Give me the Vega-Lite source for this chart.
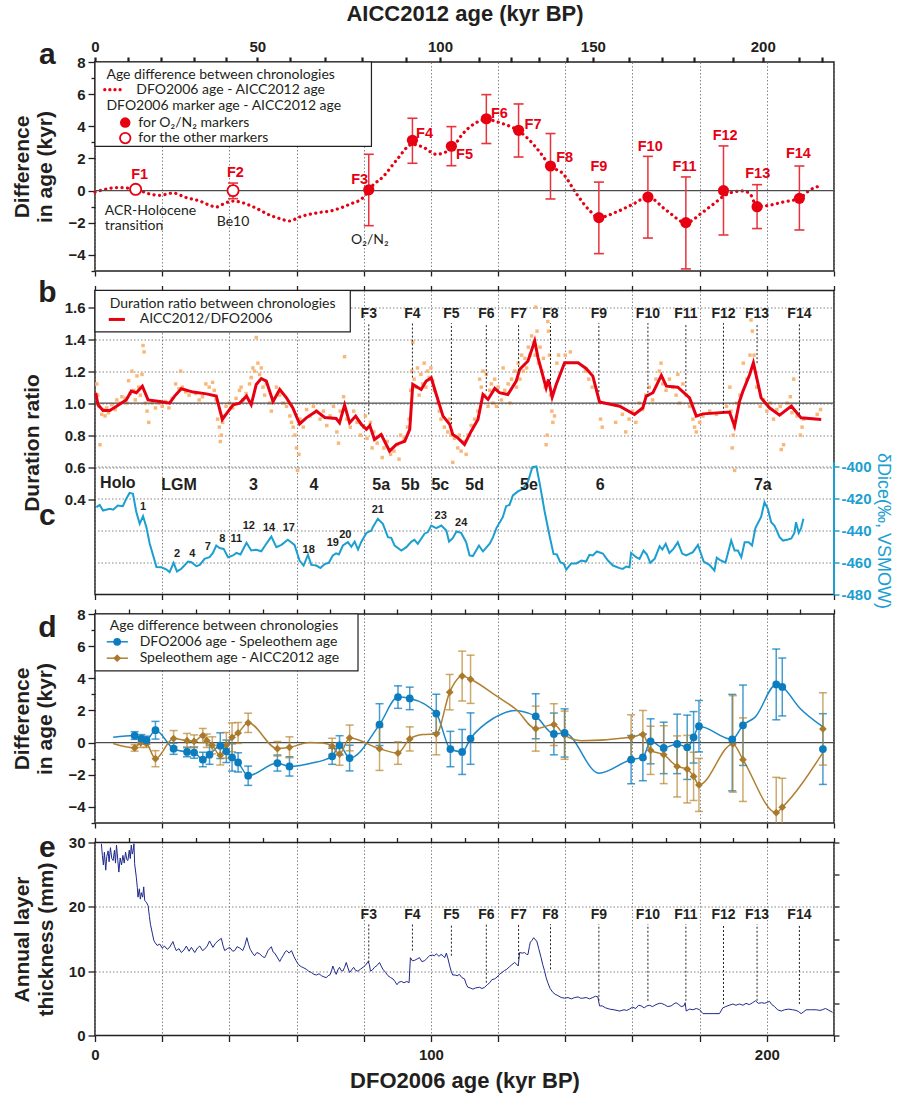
{
"$schema":"https://vega.github.io/schema/vega-lite/v6.json",
"padding":{"left":10,"top":1,"right":0,"bottom":0},
"background":"white",
"config":{
 "view":{"stroke":"#231f20","strokeWidth":1.5},
 "axis":{"labelFont":"Liberation Sans","labelFontWeight":"bold","labelFontSize":15,"labelColor":"#231f20","titleFont":"Liberation Sans","titleFontWeight":"bold","titleFontSize":21,"titleColor":"#231f20","tickColor":"#231f20","tickWidth":1.3,"domain":false,"gridColor":"#777","gridDash":[1.5,2],"gridWidth":0.9,"labelOverlap":false,"labelFlush":false},
 "text":{"font":"Liberation Sans","color":"#231f20"}
},
"datasets":{
 "a_curve":[{"age":0,"diff":-0.09},{"age":3,"diff":0.08},{"age":6.4,"diff":0.19},{"age":9,"diff":0.17},{"age":11.3,"diff":0.12},{"age":13.5,"diff":0.0},{"age":15.3,"diff":-0.15},{"age":19.3,"diff":-0.29},{"age":23.2,"diff":-0.15},{"age":27.2,"diff":-0.44},{"age":31.2,"diff":-0.65},{"age":34,"diff":-0.9},{"age":36.1,"diff":-1.02},{"age":38.5,"diff":-0.8},{"age":41.1,"diff":-0.65},{"age":46.0,"diff":-0.91},{"age":49,"diff":-1.2},{"age":51.0,"diff":-1.43},{"age":55.0,"diff":-1.74},{"age":57.9,"diff":-1.89},{"age":60.9,"diff":-1.64},{"age":65.9,"diff":-1.39},{"age":70.8,"diff":-1.23},{"age":75.8,"diff":-0.85},{"age":79.8,"diff":-0.44},{"age":82.7,"diff":0.33},{"age":85.7,"diff":0.85},{"age":89.7,"diff":1.88},{"age":94.5,"diff":2.88},{"age":97.6,"diff":2.71},{"age":101.6,"diff":2.26},{"age":106.1,"diff":2.61},{"age":109.5,"diff":3.54},{"age":113,"diff":4.17},{"age":116.5,"diff":4.43},{"age":120.4,"diff":4.23},{"age":126.1,"diff":3.71},{"age":129.4,"diff":3.13},{"age":132.4,"diff":2.4},{"age":135.6,"diff":1.53},{"age":139.3,"diff":1.06},{"age":143.3,"diff":-0.19},{"age":147.2,"diff":-1.23},{"age":150.0,"diff":-1.68},{"age":155.2,"diff":-1.33},{"age":160.1,"diff":-0.85},{"age":164.6,"diff":-0.4},{"age":170.1,"diff":-1.23},{"age":175.9,"diff":-1.99},{"age":181.0,"diff":-1.33},{"age":184.9,"diff":-0.71},{"age":187.5,"diff":-0.3},{"age":189.9,"diff":-0.09},{"age":192.9,"diff":-0.02},{"age":195,"diff":-0.2},{"age":197.1,"diff":-1.0},{"age":200.8,"diff":-0.91},{"age":204.8,"diff":-0.71},{"age":209.7,"diff":-0.48},{"age":212.7,"diff":0.02},{"age":216.5,"diff":0.33}],
 "a_markers":[{"F":"F1","age":12.1,"diff":0.08,"lo":null,"hi":null,"marker":"other"},{"F":"F2","age":41.1,"diff":0.0,"lo":-0.5,"hi":0.47,"marker":"other"},{"F":"F3","age":81.5,"diff":0.05,"lo":-2.18,"hi":2.26,"marker":"O2N2"},{"F":"F4","age":94.5,"diff":3.13,"lo":1.7,"hi":4.5,"marker":"O2N2"},{"F":"F5","age":106.1,"diff":2.76,"lo":1.55,"hi":3.98,"marker":"O2N2"},{"F":"F6","age":116.5,"diff":4.47,"lo":2.93,"hi":5.97,"marker":"O2N2"},{"F":"F7","age":126.1,"diff":3.75,"lo":2.09,"hi":5.39,"marker":"O2N2"},{"F":"F8","age":135.6,"diff":1.53,"lo":-0.52,"hi":3.55,"marker":"O2N2"},{"F":"F9","age":150.0,"diff":-1.68,"lo":-3.92,"hi":0.53,"marker":"O2N2"},{"F":"F10","age":164.6,"diff":-0.4,"lo":-2.95,"hi":2.13,"marker":"O2N2"},{"F":"F11","age":175.9,"diff":-1.99,"lo":-4.87,"hi":0.85,"marker":"O2N2"},{"F":"F12","age":187.1,"diff":0.0,"lo":-2.76,"hi":2.78,"marker":"O2N2"},{"F":"F13","age":197.1,"diff":-1.0,"lo":-2.36,"hi":0.37,"marker":"O2N2"},{"F":"F14","age":209.7,"diff":-0.48,"lo":-2.45,"hi":1.53,"marker":"O2N2"}],
 "a_labels":[{"F":"F1","age":13.3,"diff":1.0},{"F":"F2","age":41.8,"diff":1.12},{"F":"F3","age":78.8,"diff":0.64},{"F":"F4","age":98.1,"diff":3.55},{"F":"F5","age":110,"diff":2.2},{"F":"F6","age":120.4,"diff":4.79},{"F":"F7","age":130.4,"diff":4.06},{"F":"F8","age":139.8,"diff":2.03},{"F":"F9","age":150.0,"diff":1.47},{"F":"F10","age":165.3,"diff":2.72},{"F":"F11","age":175.5,"diff":1.47},{"F":"F12","age":187.6,"diff":3.4},{"F":"F13","age":197.3,"diff":1.06},{"F":"F14","age":209.4,"diff":2.25}],
 "fmarks":[{"F":"F3","age":81.5,"bEnd":0.93,"eEnd":11.35},{"F":"F4","age":94.5,"bEnd":1.16,"eEnd":13.2},{"F":"F5","age":106.1,"bEnd":0.87,"eEnd":12.4},{"F":"F6","age":116.5,"bEnd":1.075,"eEnd":8.2},{"F":"F7","age":126.1,"bEnd":1.2,"eEnd":11.9},{"F":"F8","age":135.6,"bEnd":1.12,"eEnd":10.3},{"F":"F9","age":150.0,"bEnd":1.07,"eEnd":5.4},{"F":"F10","age":164.6,"bEnd":1.04,"eEnd":5.4},{"F":"F11","age":175.9,"bEnd":1.075,"eEnd":5.4},{"F":"F12","age":187.1,"bEnd":0.94,"eEnd":4.9},{"F":"F13","age":197.1,"bEnd":1.25,"eEnd":5.4},{"F":"F14","age":209.7,"bEnd":0.93,"eEnd":4.9}],
 "b_ratio":[{"age":0.2,"ratio":1.064},{"age":0.9,"ratio":0.99},{"age":2.4,"ratio":0.954},{"age":4.4,"ratio":0.954},{"age":6.4,"ratio":0.98},{"age":9.3,"ratio":1.02},{"age":10.8,"ratio":1.075},{"age":12.3,"ratio":1.065},{"age":14.1,"ratio":1.106},{"age":15.8,"ratio":1.02},{"age":19.3,"ratio":1.01},{"age":22.2,"ratio":1.0},{"age":23.7,"ratio":1.044},{"age":25.7,"ratio":1.09},{"age":29.2,"ratio":1.069},{"age":33.2,"ratio":1.058},{"age":36.1,"ratio":1.044},{"age":37.9,"ratio":0.898},{"age":39.1,"ratio":0.933},{"age":41.1,"ratio":0.99},{"age":43.1,"ratio":1.0},{"age":45.1,"ratio":1.044},{"age":46.5,"ratio":0.99},{"age":48.0,"ratio":1.117},{"age":49.5,"ratio":1.154},{"age":51.0,"ratio":1.138},{"age":53.0,"ratio":1.01},{"age":55.0,"ratio":1.085},{"age":57.0,"ratio":1.033},{"age":58.9,"ratio":0.97},{"age":60.9,"ratio":0.87},{"age":62.9,"ratio":0.908},{"age":65.9,"ratio":0.95},{"age":68.4,"ratio":0.91},{"age":71.8,"ratio":0.904},{"age":72.8,"ratio":0.877},{"age":74.3,"ratio":0.988},{"age":75.8,"ratio":0.877},{"age":77.6,"ratio":0.919},{"age":79.3,"ratio":0.867},{"age":80.8,"ratio":0.836},{"age":81.8,"ratio":0.86},{"age":83.2,"ratio":0.773},{"age":85.2,"ratio":0.804},{"age":87.7,"ratio":0.70},{"age":89.7,"ratio":0.742},{"age":92.2,"ratio":0.762},{"age":93.7,"ratio":0.836},{"age":94.6,"ratio":1.117},{"age":97.1,"ratio":1.085},{"age":98.6,"ratio":1.138},{"age":100.1,"ratio":1.158},{"age":101.6,"ratio":1.054},{"age":103.6,"ratio":0.919},{"age":105.6,"ratio":0.867},{"age":106.5,"ratio":0.804},{"age":108.0,"ratio":0.783},{"age":110.0,"ratio":0.742},{"age":112.0,"ratio":0.825},{"age":114.0,"ratio":0.898},{"age":115.5,"ratio":1.054},{"age":117.0,"ratio":1.023},{"age":119.0,"ratio":1.092},{"age":120.4,"ratio":1.065},{"age":122.9,"ratio":1.054},{"age":125.4,"ratio":1.138},{"age":126.4,"ratio":1.21},{"age":128.9,"ratio":1.263},{"age":130.9,"ratio":1.388},{"age":131.9,"ratio":1.283},{"age":134.3,"ratio":1.096},{"age":135.0,"ratio":1.148},{"age":136.1,"ratio":1.038},{"age":137.3,"ratio":1.117},{"age":139.8,"ratio":1.252},{"age":143.8,"ratio":1.252},{"age":146.2,"ratio":1.217},{"age":148.2,"ratio":1.169},{"age":150.2,"ratio":1.008},{"age":156.2,"ratio":0.981},{"age":160.6,"ratio":0.929},{"age":163.1,"ratio":0.971},{"age":164.1,"ratio":1.044},{"age":166.1,"ratio":1.065},{"age":168.6,"ratio":1.173},{"age":170.1,"ratio":1.106},{"age":173.5,"ratio":1.1},{"age":177.0,"ratio":1.033},{"age":179.0,"ratio":0.919},{"age":181.0,"ratio":0.933},{"age":188.9,"ratio":0.944},{"age":190.4,"ratio":0.856},{"age":191.9,"ratio":1.013},{"age":192.9,"ratio":1.075},{"age":194.9,"ratio":1.179},{"age":196.0,"ratio":1.252},{"age":198.3,"ratio":1.033},{"age":200.8,"ratio":0.971},{"age":203.8,"ratio":0.925},{"age":207.3,"ratio":0.981},{"age":210.2,"ratio":0.908},{"age":216.2,"ratio":0.898}],
 "b_points":[{"age":0.5,"ratio":1.12},{"age":0.8,"ratio":1.05},{"age":1.2,"ratio":0.98},{"age":1.5,"ratio":0.74},{"age":2,"ratio":0.93},{"age":2.5,"ratio":0.96},{"age":3,"ratio":0.92},{"age":3.5,"ratio":0.97},{"age":4,"ratio":0.94},{"age":5,"ratio":0.99},{"age":6,"ratio":0.96},{"age":6.5,"ratio":1.02},{"age":7.5,"ratio":1.0},{"age":8,"ratio":1.04},{"age":9,"ratio":1.03},{"age":9.5,"ratio":1.0},{"age":10,"ratio":1.14},{"age":10.5,"ratio":1.06},{"age":11,"ratio":1.2},{"age":11.5,"ratio":1.08},{"age":12,"ratio":1.02},{"age":12.5,"ratio":1.17},{"age":13,"ratio":1.1},{"age":13.5,"ratio":1.05},{"age":14,"ratio":1.18},{"age":14.3,"ratio":1.36},{"age":14.6,"ratio":1.32},{"age":15,"ratio":1.0},{"age":15.5,"ratio":0.95},{"age":16,"ratio":0.88},{"age":17,"ratio":1.0},{"age":18,"ratio":0.97},{"age":19,"ratio":1.0},{"age":20,"ratio":0.98},{"age":21,"ratio":1.01},{"age":22,"ratio":0.97},{"age":23,"ratio":1.03},{"age":24,"ratio":1.12},{"age":25,"ratio":1.09},{"age":25.5,"ratio":1.2},{"age":26,"ratio":1.1},{"age":27,"ratio":1.07},{"age":28,"ratio":1.05},{"age":30,"ratio":1.06},{"age":31,"ratio":1.02},{"age":32,"ratio":1.04},{"age":33,"ratio":1.12},{"age":34,"ratio":1.1},{"age":35,"ratio":1.13},{"age":35.5,"ratio":1.08},{"age":36,"ratio":1.02},{"age":36.5,"ratio":0.9},{"age":37,"ratio":0.85},{"age":37.3,"ratio":0.76},{"age":37.6,"ratio":0.8},{"age":38,"ratio":0.88},{"age":38.4,"ratio":0.92},{"age":39,"ratio":0.98},{"age":40,"ratio":1.0},{"age":41,"ratio":0.97},{"age":42,"ratio":1.03},{"age":43,"ratio":1.08},{"age":43.5,"ratio":1.1},{"age":44,"ratio":1.02},{"age":45,"ratio":1.06},{"age":46,"ratio":1.12},{"age":46.5,"ratio":1.16},{"age":47,"ratio":1.22},{"age":47.5,"ratio":1.2},{"age":48,"ratio":1.41},{"age":48.5,"ratio":1.25},{"age":49,"ratio":1.18},{"age":49.5,"ratio":1.22},{"age":50,"ratio":1.1},{"age":50.5,"ratio":1.05},{"age":51,"ratio":1.12},{"age":52,"ratio":1.0},{"age":52.5,"ratio":0.95},{"age":53,"ratio":1.02},{"age":54,"ratio":1.1},{"age":55,"ratio":1.05},{"age":56,"ratio":1.0},{"age":57,"ratio":0.98},{"age":58,"ratio":0.92},{"age":58.5,"ratio":0.88},{"age":59,"ratio":0.85},{"age":59.5,"ratio":0.8},{"age":60,"ratio":0.72},{"age":60.3,"ratio":0.58},{"age":60.7,"ratio":0.68},{"age":61,"ratio":0.9},{"age":62,"ratio":0.85},{"age":63,"ratio":0.96},{"age":64,"ratio":0.92},{"age":65,"ratio":0.98},{"age":66,"ratio":0.95},{"age":67,"ratio":0.9},{"age":68,"ratio":0.95},{"age":69,"ratio":0.86},{"age":70,"ratio":0.92},{"age":71,"ratio":0.98},{"age":72,"ratio":0.82},{"age":72.5,"ratio":0.75},{"age":73,"ratio":0.95},{"age":74,"ratio":1.04},{"age":74.3,"ratio":1.29},{"age":75,"ratio":0.9},{"age":76,"ratio":0.85},{"age":77,"ratio":0.95},{"age":78,"ratio":0.88},{"age":79,"ratio":0.8},{"age":80,"ratio":0.85},{"age":80.5,"ratio":0.92},{"age":81,"ratio":0.78},{"age":82,"ratio":0.88},{"age":82.5,"ratio":0.72},{"age":83,"ratio":0.82},{"age":84,"ratio":0.75},{"age":85,"ratio":0.8},{"age":85.5,"ratio":0.66},{"age":86,"ratio":0.72},{"age":87,"ratio":0.76},{"age":88,"ratio":0.68},{"age":89,"ratio":0.7},{"age":90,"ratio":0.74},{"age":90.5,"ratio":0.65},{"age":91,"ratio":0.8},{"age":92,"ratio":0.78},{"age":93,"ratio":0.85},{"age":93.5,"ratio":0.9},{"age":94,"ratio":1.08},{"age":94.3,"ratio":1.2},{"age":94.6,"ratio":1.38},{"age":95,"ratio":1.15},{"age":95.5,"ratio":1.1},{"age":96,"ratio":1.22},{"age":96.5,"ratio":1.05},{"age":97,"ratio":1.18},{"age":97.5,"ratio":1.12},{"age":98,"ratio":1.25},{"age":98.5,"ratio":1.1},{"age":99,"ratio":1.2},{"age":99.5,"ratio":1.16},{"age":100,"ratio":1.22},{"age":100.5,"ratio":1.14},{"age":101,"ratio":1.08},{"age":102,"ratio":1.0},{"age":102.5,"ratio":0.95},{"age":103,"ratio":0.9},{"age":104,"ratio":0.85},{"age":105,"ratio":0.82},{"age":105.5,"ratio":0.9},{"age":106,"ratio":0.8},{"age":106.5,"ratio":0.63},{"age":107,"ratio":0.78},{"age":108,"ratio":0.72},{"age":108.5,"ratio":0.8},{"age":109,"ratio":0.7},{"age":110,"ratio":0.76},{"age":110.5,"ratio":0.68},{"age":111,"ratio":0.8},{"age":112,"ratio":0.86},{"age":113,"ratio":0.9},{"age":114,"ratio":0.95},{"age":114.5,"ratio":1.15},{"age":115,"ratio":1.1},{"age":115.5,"ratio":1.2},{"age":116,"ratio":1.05},{"age":116.5,"ratio":1.18},{"age":117,"ratio":0.98},{"age":117.5,"ratio":1.08},{"age":118,"ratio":1.12},{"age":118.5,"ratio":1.0},{"age":119,"ratio":1.15},{"age":119.5,"ratio":0.98},{"age":120,"ratio":1.1},{"age":121,"ratio":1.02},{"age":121.5,"ratio":1.22},{"age":122,"ratio":1.08},{"age":123,"ratio":1.12},{"age":123.5,"ratio":1.0},{"age":124,"ratio":1.15},{"age":125,"ratio":1.2},{"age":125.5,"ratio":1.1},{"age":126,"ratio":1.25},{"age":126.5,"ratio":1.15},{"age":127,"ratio":1.3},{"age":127.5,"ratio":1.2},{"age":128,"ratio":1.28},{"age":128.5,"ratio":1.22},{"age":129,"ratio":1.35},{"age":129.5,"ratio":1.3},{"age":130,"ratio":1.42},{"age":130.5,"ratio":1.38},{"age":131,"ratio":1.3},{"age":131.2,"ratio":1.6},{"age":131.6,"ratio":1.45},{"age":132,"ratio":1.25},{"age":132.5,"ratio":1.35},{"age":133,"ratio":1.2},{"age":133.5,"ratio":1.28},{"age":134,"ratio":1.1},{"age":134.3,"ratio":0.74},{"age":134.6,"ratio":0.8},{"age":134.8,"ratio":1.51},{"age":135,"ratio":1.45},{"age":135.3,"ratio":1.3},{"age":135.6,"ratio":1.05},{"age":136,"ratio":0.95},{"age":136.3,"ratio":0.88},{"age":136.8,"ratio":0.92},{"age":137.5,"ratio":1.25},{"age":138,"ratio":1.3},{"age":140,"ratio":1.3},{"age":141.5,"ratio":1.32},{"age":146,"ratio":1.2},{"age":147,"ratio":1.15},{"age":148,"ratio":1.1},{"age":150.5,"ratio":0.9},{"age":151,"ratio":0.85},{"age":155,"ratio":0.88},{"age":157,"ratio":0.93},{"age":158,"ratio":0.82},{"age":159,"ratio":0.9},{"age":160,"ratio":0.95},{"age":161,"ratio":0.88},{"age":162,"ratio":1.0},{"age":163,"ratio":0.96},{"age":164,"ratio":1.05},{"age":165,"ratio":1.1},{"age":166,"ratio":1.02},{"age":167,"ratio":1.15},{"age":168,"ratio":1.2},{"age":168.5,"ratio":1.25},{"age":169,"ratio":1.12},{"age":170,"ratio":1.08},{"age":171,"ratio":1.15},{"age":172,"ratio":1.1},{"age":173,"ratio":1.05},{"age":173.5,"ratio":1.18},{"age":174,"ratio":1.0},{"age":175,"ratio":1.12},{"age":176,"ratio":1.05},{"age":177,"ratio":0.98},{"age":178,"ratio":0.9},{"age":178.5,"ratio":0.85},{"age":179,"ratio":0.82},{"age":180,"ratio":0.88},{"age":181,"ratio":0.92},{"age":183,"ratio":0.95},{"age":185,"ratio":0.93},{"age":188,"ratio":0.98},{"age":189,"ratio":1.1},{"age":189.3,"ratio":0.95},{"age":189.7,"ratio":0.72},{"age":190,"ratio":0.8},{"age":190.3,"ratio":0.85},{"age":190.4,"ratio":0.58},{"age":191,"ratio":1.0},{"age":192,"ratio":1.05},{"age":193,"ratio":1.25},{"age":194,"ratio":1.15},{"age":195,"ratio":1.3},{"age":195.3,"ratio":1.52},{"age":195.7,"ratio":1.45},{"age":196.2,"ratio":1.3},{"age":197,"ratio":1.1},{"age":198,"ratio":0.98},{"age":199,"ratio":1.02},{"age":200,"ratio":0.95},{"age":201,"ratio":1.0},{"age":202,"ratio":0.9},{"age":203,"ratio":0.96},{"age":204,"ratio":0.98},{"age":204.3,"ratio":0.71},{"age":205,"ratio":0.74},{"age":206,"ratio":1.0},{"age":207,"ratio":1.04},{"age":207.5,"ratio":0.94},{"age":208,"ratio":1.15},{"age":209,"ratio":0.92},{"age":210,"ratio":0.8},{"age":210.5,"ratio":0.85},{"age":211,"ratio":0.9},{"age":215,"ratio":0.93},{"age":216,"ratio":0.96}],
 "c_dD":[{"age":0.4,"dD":-425.4},{"age":1.4,"dD":-424},{"age":2.4,"dD":-427.5},{"age":4.4,"dD":-426.5},{"age":5.4,"dD":-427},{"age":6.8,"dD":-424.4},{"age":8.3,"dD":-424.8},{"age":9.3,"dD":-420.2},{"age":10.3,"dD":-416.5},{"age":11.3,"dD":-417},{"age":12.3,"dD":-428.5},{"age":13.3,"dD":-435.8},{"age":14.3,"dD":-431},{"age":15.3,"dD":-437.9},{"age":16.3,"dD":-448.3},{"age":18.3,"dD":-462.9},{"age":19.8,"dD":-463},{"age":21.3,"dD":-464.4},{"age":22.2,"dD":-466},{"age":23.4,"dD":-460.2},{"age":24.4,"dD":-465.6},{"age":25.7,"dD":-463.9},{"age":27.7,"dD":-459.4},{"age":28.7,"dD":-459.8},{"age":30.2,"dD":-462.3},{"age":31.2,"dD":-461.5},{"age":32.6,"dD":-457.7},{"age":34.1,"dD":-456.7},{"age":35.1,"dD":-454},{"age":36.1,"dD":-449.4},{"age":37.1,"dD":-451},{"age":38.3,"dD":-451.5},{"age":39.6,"dD":-456.7},{"age":41.1,"dD":-455.6},{"age":42.1,"dD":-454},{"age":43.3,"dD":-455},{"age":45.1,"dD":-447.7},{"age":46.5,"dD":-452.5},{"age":48.0,"dD":-452},{"age":49.5,"dD":-453},{"age":51.0,"dD":-448.3},{"age":52.5,"dD":-443.8},{"age":54.0,"dD":-450.4},{"age":55.5,"dD":-449},{"age":57.4,"dD":-445.8},{"age":59.4,"dD":-449},{"age":60.9,"dD":-458.8},{"age":62.1,"dD":-461.9},{"age":63.4,"dD":-455.2},{"age":64.4,"dD":-461.5},{"age":65.9,"dD":-461.9},{"age":67.1,"dD":-463.5},{"age":68.4,"dD":-461},{"age":69.6,"dD":-460.2},{"age":70.8,"dD":-455.6},{"age":71.8,"dD":-454.3},{"age":72.6,"dD":-455},{"age":73.8,"dD":-449.4},{"age":75.3,"dD":-447.3},{"age":76.3,"dD":-450.2},{"age":77.3,"dD":-447},{"age":78.3,"dD":-451.9},{"age":79.3,"dD":-447},{"age":80.8,"dD":-441.5},{"age":82.3,"dD":-440},{"age":82.7,"dD":-437.9},{"age":84.2,"dD":-432.7},{"age":85.7,"dD":-435.8},{"age":87.2,"dD":-444.2},{"age":88.2,"dD":-444.6},{"age":89.2,"dD":-449.4},{"age":91.2,"dD":-452.5},{"age":92.7,"dD":-450.4},{"age":94.2,"dD":-446.9},{"age":95.1,"dD":-445.8},{"age":96.1,"dD":-448.3},{"age":98.1,"dD":-442},{"age":99.1,"dD":-441},{"age":100.1,"dD":-436.9},{"age":101.6,"dD":-438.5},{"age":103.1,"dD":-436.9},{"age":104.6,"dD":-440},{"age":105.4,"dD":-446.9},{"age":106.5,"dD":-444.8},{"age":107.6,"dD":-440.6},{"age":109.0,"dD":-441.5},{"age":110.5,"dD":-447.3},{"age":111.5,"dD":-455.6},{"age":112.5,"dD":-456},{"age":114.3,"dD":-449.4},{"age":115.5,"dD":-453.1},{"age":117.5,"dD":-448.3},{"age":118.5,"dD":-444.2},{"age":119.5,"dD":-438.5},{"age":121.4,"dD":-431.7},{"age":122.4,"dD":-424.8},{"age":123.4,"dD":-424},{"age":124.4,"dD":-418.1},{"age":125.9,"dD":-415.6},{"age":127.4,"dD":-414},{"age":128.9,"dD":-409.4},{"age":130.2,"dD":-400.4},{"age":131.4,"dD":-400},{"age":132.4,"dD":-410.8},{"age":133.8,"dD":-427.5},{"age":135.3,"dD":-443.1},{"age":136.5,"dD":-454.6},{"age":137.5,"dD":-455},{"age":138.5,"dD":-459.8},{"age":139.5,"dD":-460.6},{"age":140.3,"dD":-464.4},{"age":141.8,"dD":-460.6},{"age":143.3,"dD":-460.6},{"age":144.8,"dD":-458.8},{"age":146.2,"dD":-459.4},{"age":147.2,"dD":-455.2},{"age":148.2,"dD":-455.6},{"age":149.4,"dD":-453.1},{"age":151.2,"dD":-454.4},{"age":152.7,"dD":-458.8},{"age":154.2,"dD":-461.9},{"age":156.2,"dD":-463.5},{"age":157.1,"dD":-464},{"age":158.2,"dD":-462.5},{"age":159.1,"dD":-463},{"age":159.6,"dD":-454},{"age":161.1,"dD":-456.7},{"age":162.1,"dD":-457.7},{"age":163.3,"dD":-452.5},{"age":164.3,"dD":-455},{"age":165.3,"dD":-460.2},{"age":166.6,"dD":-457.7},{"age":168.1,"dD":-449.8},{"age":168.9,"dD":-451.9},{"age":169.9,"dD":-448.3},{"age":171.0,"dD":-454},{"age":172.2,"dD":-451.5},{"age":173.5,"dD":-447.3},{"age":174.8,"dD":-454.4},{"age":176.0,"dD":-455.6},{"age":178.0,"dD":-453.5},{"age":179.5,"dD":-449},{"age":181.2,"dD":-459.4},{"age":182.9,"dD":-461.5},{"age":184.4,"dD":-465},{"age":185.1,"dD":-457},{"age":186.1,"dD":-458.5},{"age":187.7,"dD":-460},{"age":189.4,"dD":-446.3},{"age":190.4,"dD":-452.5},{"age":191.4,"dD":-452.5},{"age":192.4,"dD":-456.7},{"age":193.4,"dD":-447.3},{"age":194.6,"dD":-447.3},{"age":195.6,"dD":-449.4},{"age":196.6,"dD":-438.5},{"age":198.3,"dD":-431.5},{"age":199.3,"dD":-422.3},{"age":200.3,"dD":-426.5},{"age":201.3,"dD":-434.8},{"age":202.3,"dD":-437},{"age":203.8,"dD":-444.2},{"age":204.8,"dD":-446.3},{"age":206.3,"dD":-445.6},{"age":207.3,"dD":-445},{"age":208.2,"dD":-441.5},{"age":208.7,"dD":-434.8},{"age":209.5,"dD":-441.5},{"age":210.2,"dD":-438.5},{"age":210.9,"dD":-432.7}],
 "c_labels":[{"label":"Holo","age":6.8,"dD":-410,"kind":"stage"},{"label":"LGM","age":25.0,"dD":-411.5,"kind":"stage"},{"label":"3","age":47.2,"dD":-411.5,"kind":"stage"},{"label":"4","age":65.2,"dD":-411.5,"kind":"stage"},{"label":"5a","age":85.2,"dD":-411.5,"kind":"stage"},{"label":"5b","age":93.9,"dD":-411.5,"kind":"stage"},{"label":"5c","age":102.8,"dD":-411.5,"kind":"stage"},{"label":"5d","age":113,"dD":-411.5,"kind":"stage"},{"label":"5e","age":129.2,"dD":-411.5,"kind":"stage"},{"label":"6","age":150.4,"dD":-411.5,"kind":"stage"},{"label":"7a","age":198.8,"dD":-411.5,"kind":"stage"},{"label":"1","age":14.3,"dD":-425.4,"kind":"is"},{"label":"2","age":24.4,"dD":-454.6,"kind":"is"},{"label":"4","age":29.0,"dD":-454.6,"kind":"is"},{"label":"7","age":33.6,"dD":-450.4,"kind":"is"},{"label":"8","age":37.9,"dD":-445.2,"kind":"is"},{"label":"11","age":42.1,"dD":-445.2,"kind":"is"},{"label":"12","age":45.8,"dD":-437.3,"kind":"is"},{"label":"14","age":51.8,"dD":-438.5,"kind":"is"},{"label":"17","age":57.7,"dD":-438.5,"kind":"is"},{"label":"18","age":63.6,"dD":-452,"kind":"is"},{"label":"19","age":70.8,"dD":-447.7,"kind":"is"},{"label":"20","age":74.5,"dD":-442.5,"kind":"is"},{"label":"21","age":84.2,"dD":-426.9,"kind":"is"},{"label":"23","age":102.9,"dD":-431,"kind":"is"},{"label":"24","age":109.0,"dD":-435.2,"kind":"is"}],
 "d_blue_line":[{"age":5.4,"diff":0.33},{"age":11.8,"diff":0.44},{"age":13.8,"diff":0.25},{"age":15.3,"diff":0.15},{"age":18.0,"diff":0.77},{"age":23.4,"diff":-0.38},{"age":27.4,"diff":-0.58},{"age":29.5,"diff":-0.62},{"age":32.1,"diff":-1.06},{"age":34.1,"diff":-0.75},{"age":37.3,"diff":-0.19},{"age":39.1,"diff":-0.54},{"age":40.8,"diff":-0.92},{"age":42.6,"diff":-1.23},{"age":45.6,"diff":-2.06},{"age":54.3,"diff":-1.27},{"age":57.9,"diff":-1.48},{"age":64,"diff":-1.3},{"age":70.6,"diff":-0.85},{"age":72.8,"diff":-0.17},{"age":75.8,"diff":-0.96},{"age":84.7,"diff":1.12},{"age":90.2,"diff":2.83},{"age":93.7,"diff":2.75},{"age":101.6,"diff":1.81},{"age":105.8,"diff":-0.4},{"age":109.3,"diff":-0.58},{"age":111.8,"diff":0.25},{"age":118.5,"diff":1.5},{"age":125.4,"diff":2.0},{"age":128.9,"diff":1.84},{"age":131.2,"diff":1.64},{"age":136.6,"diff":0.54},{"age":139.8,"diff":0.6},{"age":150.0,"diff":-1.9},{"age":159.6,"diff":-1.06},{"age":163.1,"diff":-0.92},{"age":165.4,"diff":0.08},{"age":169.3,"diff":-0.33},{"age":173.3,"diff":-0.08},{"age":176.3,"diff":-0.29},{"age":178.2,"diff":0.33},{"age":179.8,"diff":1.02},{"age":189.7,"diff":0.2},{"age":192.9,"diff":1.08},{"age":196.6,"diff":1.6},{"age":202.8,"diff":3.62},{"age":204.6,"diff":3.46},{"age":209.7,"diff":2.17},{"age":216.6,"diff":1.0}],
 "d_blue_pts":[{"age":11.8,"diff":0.44,"lo":0.2,"hi":0.68},{"age":13.8,"diff":0.25,"lo":0.0,"hi":0.5},{"age":15.3,"diff":0.15,"lo":-0.1,"hi":0.4},{"age":18.0,"diff":0.77,"lo":0.22,"hi":1.32},{"age":23.4,"diff":-0.38,"lo":-0.73,"hi":-0.03},{"age":27.4,"diff":-0.58,"lo":-0.88,"hi":-0.28},{"age":29.5,"diff":-0.62,"lo":-0.97,"hi":-0.27},{"age":32.1,"diff":-1.06,"lo":-1.5,"hi":-0.6},{"age":34.1,"diff":-0.75,"lo":-1.35,"hi":-0.15},{"age":37.3,"diff":-0.19,"lo":-0.99,"hi":0.61},{"age":39.1,"diff":-0.54,"lo":-1.24,"hi":0.16},{"age":40.8,"diff":-0.92,"lo":-1.77,"hi":-0.07},{"age":42.6,"diff":-1.23,"lo":-1.83,"hi":-0.63},{"age":45.6,"diff":-2.06,"lo":-2.66,"hi":-1.46},{"age":54.3,"diff":-1.27,"lo":-1.77,"hi":-0.77},{"age":57.9,"diff":-1.48,"lo":-2.08,"hi":-0.88},{"age":70.6,"diff":-0.85,"lo":-1.35,"hi":-0.35},{"age":72.8,"diff":-0.17,"lo":-0.77,"hi":0.43},{"age":75.8,"diff":-0.96,"lo":-1.76,"hi":-0.16},{"age":84.7,"diff":1.12,"lo":-0.18,"hi":2.42},{"age":90.2,"diff":2.83,"lo":2.13,"hi":3.53},{"age":93.7,"diff":2.75,"lo":2.05,"hi":3.45},{"age":101.6,"diff":1.81,"lo":0.61,"hi":3.01},{"age":105.8,"diff":-0.4,"lo":-1.5,"hi":0.7},{"age":109.3,"diff":-0.58,"lo":-1.98,"hi":0.82},{"age":111.8,"diff":0.25,"lo":-1.35,"hi":1.85},{"age":131.2,"diff":1.64,"lo":0.24,"hi":3.04},{"age":136.6,"diff":0.54,"lo":-0.76,"hi":1.84},{"age":139.8,"diff":0.6,"lo":-0.9,"hi":2.1},{"age":159.6,"diff":-1.06,"lo":-2.56,"hi":0.44},{"age":163.1,"diff":-0.92,"lo":-2.37,"hi":0.53},{"age":165.4,"diff":0.08,"lo":-1.32,"hi":1.48},{"age":169.3,"diff":-0.33,"lo":-1.93,"hi":1.27},{"age":173.3,"diff":-0.08,"lo":-1.93,"hi":1.77},{"age":176.3,"diff":-0.29,"lo":-2.29,"hi":1.71},{"age":178.2,"diff":0.33,"lo":-1.27,"hi":1.93},{"age":179.8,"diff":1.02,"lo":-0.58,"hi":2.62},{"age":189.7,"diff":0.2,"lo":-3.0,"hi":3.0},{"age":192.9,"diff":1.08,"lo":-1.42,"hi":3.58},{"age":202.8,"diff":3.62,"lo":1.42,"hi":5.82},{"age":204.6,"diff":3.46,"lo":1.66,"hi":5.26},{"age":216.7,"diff":-0.4,"lo":-2.6,"hi":1.8}],
 "d_brown_line":[{"age":5.4,"diff":-0.06},{"age":11.8,"diff":-0.33},{"age":13.6,"diff":0.0},{"age":15.3,"diff":-0.06},{"age":18.0,"diff":-1.0},{"age":23.4,"diff":0.25},{"age":27.4,"diff":0.12},{"age":29.5,"diff":0.08},{"age":32.1,"diff":0.44},{"age":33.3,"diff":0.12},{"age":34.9,"diff":-0.17},{"age":37.3,"diff":-0.79},{"age":39.1,"diff":-0.17},{"age":40.8,"diff":0.33},{"age":42.6,"diff":0.6},{"age":45.6,"diff":1.23},{"age":54.3,"diff":-0.38},{"age":57.9,"diff":-0.29},{"age":63.9,"diff":0.0},{"age":67.8,"diff":-0.02},{"age":70.6,"diff":-0.23},{"age":72.8,"diff":-0.71},{"age":75.8,"diff":0.29},{"age":84.7,"diff":-0.38},{"age":90.2,"diff":-0.65},{"age":93.7,"diff":0.23},{"age":97.6,"diff":0.5},{"age":101.6,"diff":0.54},{"age":105.6,"diff":3.14},{"age":109.3,"diff":4.14},{"age":111.8,"diff":3.94},{"age":119.5,"diff":2.9},{"age":125.4,"diff":2.06},{"age":131.2,"diff":0.87},{"age":136.6,"diff":1.12},{"age":139.8,"diff":0.46},{"age":144.8,"diff":0.12},{"age":159.6,"diff":0.33},{"age":163.1,"diff":0.5},{"age":165.4,"diff":-0.48},{"age":169.3,"diff":-0.75},{"age":173.3,"diff":-1.48},{"age":176.3,"diff":-1.65},{"age":178.2,"diff":-2.1},{"age":179.8,"diff":-2.63},{"age":189.9,"diff":-0.08},{"age":192.9,"diff":-1.06},{"age":202.8,"diff":-4.36},{"age":204.6,"diff":-4.02},{"age":216.6,"diff":-0.65}],
 "d_brown_pts":[{"age":11.8,"diff":-0.33,"lo":-0.53,"hi":-0.13},{"age":13.6,"diff":0.0,"lo":-0.3,"hi":0.3},{"age":15.3,"diff":-0.06,"lo":-0.3,"hi":0.18},{"age":18.0,"diff":-1.0,"lo":-1.5,"hi":-0.5},{"age":23.4,"diff":0.25,"lo":-0.25,"hi":0.75},{"age":27.4,"diff":0.12,"lo":-0.33,"hi":0.57},{"age":29.5,"diff":0.08,"lo":-0.32,"hi":0.48},{"age":32.1,"diff":0.44,"lo":0.0,"hi":0.88},{"age":33.3,"diff":0.12,"lo":-0.3,"hi":0.54},{"age":34.9,"diff":-0.17,"lo":-0.7,"hi":0.36},{"age":37.3,"diff":-0.79,"lo":-1.39,"hi":-0.19},{"age":39.1,"diff":-0.17,"lo":-0.97,"hi":0.63},{"age":40.8,"diff":0.33,"lo":-0.57,"hi":1.23},{"age":42.6,"diff":0.6,"lo":-0.05,"hi":1.25},{"age":45.6,"diff":1.23,"lo":0.63,"hi":1.83},{"age":54.3,"diff":-0.38,"lo":-0.83,"hi":0.07},{"age":57.9,"diff":-0.29,"lo":-0.94,"hi":0.36},{"age":70.6,"diff":-0.23,"lo":-0.73,"hi":0.27},{"age":72.8,"diff":-0.71,"lo":-1.41,"hi":-0.01},{"age":75.8,"diff":0.29,"lo":-0.51,"hi":1.09},{"age":84.7,"diff":-0.38,"lo":-1.73,"hi":0.97},{"age":90.2,"diff":-0.65,"lo":-1.35,"hi":0.05},{"age":93.7,"diff":0.23,"lo":-0.52,"hi":0.98},{"age":101.6,"diff":0.54,"lo":-0.76,"hi":1.84},{"age":105.6,"diff":3.14,"lo":2.04,"hi":4.24},{"age":109.3,"diff":4.14,"lo":2.59,"hi":5.69},{"age":111.8,"diff":3.94,"lo":2.44,"hi":5.44},{"age":131.2,"diff":0.87,"lo":-0.53,"hi":2.27},{"age":136.6,"diff":1.12,"lo":-0.18,"hi":2.42},{"age":139.8,"diff":0.46,"lo":-1.04,"hi":1.96},{"age":159.6,"diff":0.33,"lo":-1.07,"hi":1.73},{"age":163.1,"diff":0.5,"lo":-1.0,"hi":2.0},{"age":165.4,"diff":-0.48,"lo":-1.98,"hi":1.02},{"age":169.3,"diff":-0.75,"lo":-2.55,"hi":1.05},{"age":173.3,"diff":-1.48,"lo":-3.38,"hi":0.42},{"age":176.3,"diff":-1.65,"lo":-3.75,"hi":0.45},{"age":178.2,"diff":-2.1,"lo":-3.6,"hi":-0.6},{"age":179.8,"diff":-2.63,"lo":-4.28,"hi":-0.98},{"age":189.9,"diff":-0.08,"lo":-3.08,"hi":2.92},{"age":192.9,"diff":-1.06,"lo":-3.66,"hi":1.54},{"age":202.8,"diff":-4.36,"lo":-6.56,"hi":-2.16},{"age":204.6,"diff":-4.02,"lo":-5.82,"hi":-2.22},{"age":216.7,"diff":0.85,"lo":-1.4,"hi":3.1}],
 "e_thick":[{"age":1.9,"t":29.8},{"age":2.2,"t":28},{"age":2.5,"t":26.5},{"age":2.8,"t":28.5},{"age":3.2,"t":25.7},{"age":3.5,"t":27.8},{"age":3.9,"t":28.7},{"age":4.2,"t":27},{"age":4.6,"t":29.2},{"age":5,"t":27.5},{"age":5.4,"t":27.2},{"age":5.8,"t":28.8},{"age":6.1,"t":26.8},{"age":6.4,"t":29.6},{"age":6.8,"t":27.2},{"age":7.1,"t":25.4},{"age":7.5,"t":27.6},{"age":7.9,"t":26.5},{"age":8.3,"t":28.0},{"age":8.7,"t":26.8},{"age":9.1,"t":28.5},{"age":9.5,"t":27.3},{"age":9.8,"t":27.2},{"age":10.2,"t":28.8},{"age":10.5,"t":27.5},{"age":10.8,"t":29.6},{"age":11.1,"t":28.2},{"age":11.3,"t":28.6},{"age":11.6,"t":29.8},{"age":11.8,"t":26.7},{"age":12.3,"t":24.6},{"age":12.6,"t":23},{"age":12.8,"t":21.5},{"age":13.2,"t":22.8},{"age":13.5,"t":21.2},{"age":13.8,"t":22.2},{"age":14.2,"t":21.5},{"age":14.5,"t":23.1},{"age":14.8,"t":21},{"age":15.3,"t":20.7},{"age":15.8,"t":20.2},{"age":16.2,"t":18.5},{"age":16.5,"t":17.3},{"age":17.1,"t":15.8},{"age":17.5,"t":14.8},{"age":17.8,"t":14.5},{"age":18.5,"t":14.0},{"age":19.3,"t":14.2},{"age":20,"t":13.6},{"age":20.7,"t":13.9},{"age":21.5,"t":13.4},{"age":22.2,"t":13.7},{"age":23.2,"t":14.6},{"age":23.7,"t":13.8},{"age":24.2,"t":13.2},{"age":25,"t":13.5},{"age":25.7,"t":12.9},{"age":26.5,"t":13.3},{"age":27.2,"t":13.9},{"age":28,"t":13.1},{"age":28.7,"t":13.7},{"age":29.7,"t":12.9},{"age":30.5,"t":13.6},{"age":31.2,"t":13.9},{"age":32,"t":13.2},{"age":32.6,"t":13.4},{"age":33.4,"t":13.9},{"age":34.1,"t":14.7},{"age":35.1,"t":13.7},{"age":35.8,"t":14.3},{"age":36.6,"t":14.7},{"age":37.6,"t":15.1},{"age":38.1,"t":14.0},{"age":38.6,"t":13.2},{"age":39.4,"t":13.5},{"age":40.1,"t":13.7},{"age":41,"t":13.1},{"age":41.6,"t":13.2},{"age":42.3,"t":13.8},{"age":43.1,"t":13.6},{"age":44,"t":13.2},{"age":44.6,"t":14.0},{"age":45.2,"t":15.2},{"age":45.7,"t":14.2},{"age":46.2,"t":13.4},{"age":46.9,"t":12.8},{"age":47.5,"t":12.4},{"age":48.2,"t":12.9},{"age":49,"t":12.7},{"age":49.8,"t":12.3},{"age":50.5,"t":12.1},{"age":51,"t":12.6},{"age":51.5,"t":13.2},{"age":52.5,"t":13.8},{"age":53,"t":13.0},{"age":53.5,"t":12.8},{"age":54.2,"t":12.2},{"age":55,"t":11.5},{"age":55.5,"t":12.0},{"age":56,"t":12.4},{"age":56.6,"t":13.0},{"age":57.1,"t":13.2},{"age":57.8,"t":12.8},{"age":58.5,"t":13.2},{"age":59.2,"t":12.3},{"age":59.9,"t":11.6},{"age":60.6,"t":11.0},{"age":61.4,"t":10.7},{"age":62.2,"t":10.5},{"age":62.9,"t":10.3},{"age":63.6,"t":10.0},{"age":64.4,"t":9.8},{"age":65.2,"t":9.5},{"age":65.9,"t":9.4},{"age":66.7,"t":9.6},{"age":67.4,"t":9.3},{"age":68.2,"t":9.1},{"age":68.9,"t":9.0},{"age":69.4,"t":9.3},{"age":69.9,"t":9.4},{"age":70.4,"t":10.0},{"age":70.8,"t":10.8},{"age":71.3,"t":10.1},{"age":71.8,"t":9.5},{"age":72.3,"t":10.2},{"age":72.8,"t":10.6},{"age":73.3,"t":10.1},{"age":73.8,"t":10.0},{"age":74.3,"t":10.6},{"age":74.8,"t":11.35},{"age":75.3,"t":10.5},{"age":75.8,"t":9.8},{"age":76.4,"t":10.2},{"age":77.0,"t":10.6},{"age":77.6,"t":10.1},{"age":78.3,"t":10.0},{"age":79,"t":10.3},{"age":79.8,"t":10.6},{"age":80.5,"t":10.9},{"age":81.3,"t":11.5},{"age":81.7,"t":11.0},{"age":82.0,"t":10.0},{"age":82.6,"t":10.2},{"age":83.2,"t":10.6},{"age":84,"t":10.9},{"age":84.7,"t":11.35},{"age":85.2,"t":10.8},{"age":85.7,"t":10.3},{"age":86.5,"t":9.8},{"age":87.2,"t":9.3},{"age":88,"t":9.0},{"age":88.7,"t":8.8},{"age":89.3,"t":8.4},{"age":89.9,"t":7.9},{"age":90.5,"t":8.3},{"age":91.2,"t":8.4},{"age":92,"t":8.2},{"age":92.8,"t":8.4},{"age":93.5,"t":8.2},{"age":93.9,"t":12.1},{"age":94.5,"t":11.6},{"age":95.2,"t":11.7},{"age":95.9,"t":11.9},{"age":96.6,"t":12.1},{"age":97.3,"t":11.5},{"age":98.1,"t":11.6},{"age":98.8,"t":12.0},{"age":99.6,"t":12.4},{"age":100.4,"t":12.5},{"age":101.1,"t":12.4},{"age":101.6,"t":12.7},{"age":102.4,"t":12.3},{"age":103.0,"t":12.6},{"age":103.6,"t":12.4},{"age":104.1,"t":12.1},{"age":104.6,"t":12.8},{"age":105.1,"t":11.9},{"age":105.6,"t":10.8},{"age":106.1,"t":9.9},{"age":106.5,"t":9.4},{"age":107.2,"t":9.4},{"age":107.8,"t":9.3},{"age":108.5,"t":9.5},{"age":109.2,"t":9.0},{"age":110.0,"t":8.8},{"age":110.5,"t":8.0},{"age":111.0,"t":7.5},{"age":111.7,"t":7.4},{"age":112.5,"t":7.2},{"age":113.3,"t":7.4},{"age":114.5,"t":7.5},{"age":115.2,"t":7.3},{"age":116.0,"t":7.5},{"age":116.8,"t":7.9},{"age":117.5,"t":8.2},{"age":118.2,"t":8.7},{"age":119.0,"t":8.8},{"age":119.7,"t":9.1},{"age":120.4,"t":9.5},{"age":121.2,"t":9.8},{"age":121.9,"t":10.1},{"age":122.6,"t":10.3},{"age":123.4,"t":10.7},{"age":124.1,"t":11.0},{"age":124.9,"t":11.35},{"age":125.5,"t":11.1},{"age":126.0,"t":10.8},{"age":126.4,"t":12.9},{"age":127.2,"t":12.8},{"age":127.9,"t":12.9},{"age":128.5,"t":12.6},{"age":128.9,"t":12.6},{"age":129.3,"t":13.8},{"age":129.6,"t":14.5},{"age":130.1,"t":14.8},{"age":130.6,"t":15.2},{"age":131.0,"t":14.9},{"age":131.5,"t":14.7},{"age":132.1,"t":13.5},{"age":132.8,"t":12.1},{"age":133.3,"t":11.0},{"age":133.8,"t":10.1},{"age":134.3,"t":9.0},{"age":134.8,"t":8.2},{"age":135.5,"t":7.3},{"age":136.3,"t":6.7},{"age":137.0,"t":6.4},{"age":137.8,"t":6.2},{"age":138.8,"t":5.9},{"age":139.8,"t":5.8},{"age":140.8,"t":5.9},{"age":141.8,"t":5.7},{"age":142.8,"t":5.9},{"age":143.8,"t":6.0},{"age":144.5,"t":5.8},{"age":145.2,"t":5.8},{"age":146.2,"t":5.9},{"age":147.2,"t":5.7},{"age":148.2,"t":5.9},{"age":149.0,"t":6.1},{"age":149.7,"t":6.0},{"age":150.2,"t":4.6},{"age":151,"t":4.6},{"age":152,"t":4.3},{"age":153.2,"t":4.1},{"age":154.5,"t":4.0},{"age":156.2,"t":3.8},{"age":157.5,"t":4.0},{"age":158.3,"t":3.9},{"age":159.1,"t":4.1},{"age":160,"t":4.4},{"age":161,"t":4.2},{"age":161.8,"t":4.7},{"age":162.6,"t":4.6},{"age":163.5,"t":4.3},{"age":164.3,"t":4.6},{"age":165,"t":4.7},{"age":166,"t":4.5},{"age":167,"t":4.8},{"age":168,"t":5.0},{"age":168.6,"t":5.0},{"age":169.5,"t":4.8},{"age":170.5,"t":4.5},{"age":171.5,"t":4.6},{"age":172.3,"t":4.9},{"age":173,"t":5.1},{"age":173.8,"t":4.8},{"age":174.5,"t":4.5},{"age":175.3,"t":4.6},{"age":175.7,"t":5.1},{"age":176,"t":3.8},{"age":177,"t":4.1},{"age":178,"t":4.0},{"age":179,"t":4.2},{"age":180,"t":4.0},{"age":181,"t":3.4},{"age":182.5,"t":3.4},{"age":184,"t":3.4},{"age":185.9,"t":3.4},{"age":186.9,"t":4.3},{"age":187.8,"t":4.5},{"age":188.8,"t":4.7},{"age":189.9,"t":4.9},{"age":190.8,"t":4.7},{"age":191.8,"t":4.9},{"age":192.9,"t":4.7},{"age":193.8,"t":5.0},{"age":194.8,"t":4.8},{"age":195.8,"t":5.1},{"age":196.6,"t":5.4},{"age":197.5,"t":5.0},{"age":198.5,"t":5.1},{"age":199.3,"t":5.0},{"age":199.8,"t":5.1},{"age":200.8,"t":5.3},{"age":201.5,"t":4.8},{"age":202.3,"t":4.5},{"age":203.2,"t":4.0},{"age":204.3,"t":3.8},{"age":205.3,"t":4.0},{"age":206.5,"t":4.1},{"age":207.7,"t":4.0},{"age":208.7,"t":3.9},{"age":209.5,"t":3.7},{"age":210.2,"t":3.4},{"age":211,"t":3.7},{"age":211.7,"t":4.0},{"age":213,"t":4.0},{"age":214.7,"t":4.0},{"age":215.8,"t":3.9},{"age":216.5,"t":4.0},{"age":217.5,"t":4.2},{"age":218.5,"t":3.9},{"age":219.6,"t":3.6}],
 "one":[{}]
},
"spacing":19.5,
"bounds":"flush",
"vconcat":[
 {
  "width":739,"height":209,
  "layer":[
   {"layer":[
    {"data":{"name":"a_curve"},"mark":{"type":"line","color":"#e60012","strokeWidth":3.2,"strokeDash":[0.1,5.4],"strokeCap":"round","interpolate":"monotone"},
     "encoding":{
      "x":{"field":"age","type":"quantitative","scale":{"domain":[0,220],"nice":false,"zero":false},"axis":{"orient":"bottom","values":[0,10,20,30,40,50,60,70,80,90,100,110,120,130,140,150,160,170,180,190,200,210,220],"labels":false,"tickSize":5,"grid":true,"title":null}},
      "y":{"field":"diff","type":"quantitative","scale":{"domain":[-5,8],"nice":false,"zero":false},"axis":{"orient":"left","values":[-5,-4,-3,-2,-1,0,1,2,3,4,5,6,7,8],"labels":false,"tickSize":{"condition":{"test":"datum.value % 2 !== 0","value":4},"value":7},"grid":true,"gridOpacity":{"condition":{"test":"datum.value % 2 !== 0 || datum.value === 8","value":0},"value":1},"title":null}}}},
    {"data":{"name":"one"},"mark":{"type":"rule","color":"#4d4d4d","strokeWidth":1.2},"encoding":{"y":{"datum":0,"type":"quantitative"}}},
    {"data":{"name":"a_markers"},"transform":[{"filter":"datum.lo != null"}],"mark":{"type":"rule","color":"#e8333d","strokeWidth":1.5},"encoding":{"x":{"field":"age","type":"quantitative"},"y":{"field":"lo","type":"quantitative"},"y2":{"field":"hi"}}},
    {"data":{"name":"a_markers"},"transform":[{"filter":"datum.lo != null"}],"mark":{"type":"point","shape":"stroke","size":100,"filled":false,"stroke":"#e8333d","strokeWidth":1.6,"opacity":1},"encoding":{"x":{"field":"age","type":"quantitative"},"y":{"field":"lo","type":"quantitative"}}},
    {"data":{"name":"a_markers"},"transform":[{"filter":"datum.lo != null"}],"mark":{"type":"point","shape":"stroke","size":100,"filled":false,"stroke":"#e8333d","strokeWidth":1.6,"opacity":1},"encoding":{"x":{"field":"age","type":"quantitative"},"y":{"field":"hi","type":"quantitative"}}},
    {"data":{"name":"a_markers"},"transform":[{"filter":"datum.marker === 'O2N2'"}],"mark":{"type":"circle","size":125,"color":"#e60012","opacity":1},"encoding":{"x":{"field":"age","type":"quantitative"},"y":{"field":"diff","type":"quantitative"}}},
    {"data":{"name":"a_markers"},"transform":[{"filter":"datum.marker === 'other'"}],"mark":{"type":"point","shape":"circle","size":125,"filled":true,"fill":"white","stroke":"#e60012","strokeWidth":1.8,"opacity":1},"encoding":{"x":{"field":"age","type":"quantitative"},"y":{"field":"diff","type":"quantitative"}}},
    {"data":{"name":"one"},"mark":{"type":"text","text":"ACR-Holocene","align":"left","baseline":"middle","font":"Lato","fontSize":14},"encoding":{"x":{"datum":2.9,"type":"quantitative"},"y":{"datum":-1.26,"type":"quantitative"}}},
    {"data":{"name":"one"},"mark":{"type":"text","text":"transition","align":"left","baseline":"middle","font":"Lato","fontSize":14},"encoding":{"x":{"datum":2.9,"type":"quantitative"},"y":{"datum":-2.19,"type":"quantitative"}}},
    {"data":{"name":"one"},"mark":{"type":"text","text":"Be10","align":"center","baseline":"middle","font":"Lato","fontSize":14},"encoding":{"x":{"datum":41.1,"type":"quantitative"},"y":{"datum":-1.95,"type":"quantitative"}}},
    {"data":{"name":"one"},"mark":{"type":"text","text":"O₂/N₂","align":"center","baseline":"middle","font":"Lato","fontSize":14},"encoding":{"x":{"datum":81.8,"type":"quantitative"},"y":{"datum":-3.09,"type":"quantitative"}}},
    {"data":{"name":"one"},"mark":{"type":"rect","fill":"white","stroke":"#231f20","strokeWidth":1.2},"encoding":{"x":{"datum":0,"type":"quantitative"},"x2":{"datum":82.3},"y":{"datum":8,"type":"quantitative"},"y2":{"datum":2.755}}},
    {"data":{"name":"one"},"mark":{"type":"text","text":"Age difference between chronologies","align":"left","baseline":"middle","font":"Lato","fontSize":14},"encoding":{"x":{"datum":3.4,"type":"quantitative"},"y":{"datum":7.21,"type":"quantitative"}}},
    {"data":{"name":"one"},"mark":{"type":"rule","color":"#e60012","strokeWidth":3.2,"strokeDash":[0.1,5],"strokeCap":"round"},"encoding":{"x":{"datum":2.9,"type":"quantitative"},"x2":{"datum":8.9},"y":{"datum":6.28,"type":"quantitative"}}},
    {"data":{"name":"one"},"mark":{"type":"text","text":"DFO2006 age - AICC2012 age","align":"left","baseline":"middle","font":"Lato","fontSize":14},"encoding":{"x":{"datum":12.3,"type":"quantitative"},"y":{"datum":6.28,"type":"quantitative"}}},
    {"data":{"name":"one"},"mark":{"type":"text","text":"DFO2006 marker age - AICC2012 age","align":"left","baseline":"middle","font":"Lato","fontSize":14},"encoding":{"x":{"datum":3.4,"type":"quantitative"},"y":{"datum":5.26,"type":"quantitative"}}},
    {"data":{"name":"one"},"mark":{"type":"circle","size":110,"color":"#e60012","opacity":1},"encoding":{"x":{"datum":9.0,"type":"quantitative"},"y":{"datum":4.23,"type":"quantitative"}}},
    {"data":{"name":"one"},"mark":{"type":"text","text":"for O₂/N₂ markers","align":"left","baseline":"middle","font":"Lato","fontSize":14},"encoding":{"x":{"datum":12.9,"type":"quantitative"},"y":{"datum":4.23,"type":"quantitative"}}},
    {"data":{"name":"one"},"mark":{"type":"point","shape":"circle","size":110,"filled":true,"fill":"white","stroke":"#e60012","strokeWidth":1.8,"opacity":1},"encoding":{"x":{"datum":9.0,"type":"quantitative"},"y":{"datum":3.27,"type":"quantitative"}}},
    {"data":{"name":"one"},"mark":{"type":"text","text":"for the other markers","align":"left","baseline":"middle","font":"Lato","fontSize":14},"encoding":{"x":{"datum":12.9,"type":"quantitative"},"y":{"datum":3.27,"type":"quantitative"}}},
    {"data":{"name":"one"},"mark":{"type":"text","text":"a","align":"center","baseline":"middle","fontWeight":"bold","fontSize":30},"encoding":{"x":{"datum":-14.2,"type":"quantitative"},"y":{"datum":8.45,"type":"quantitative"}}}
   ]},
   {"data":{"name":"a_labels"},"mark":{"type":"text","fontWeight":"bold","fontSize":14.5,"color":"#e60012","align":"center","baseline":"middle"},
    "encoding":{
     "x":{"field":"age","type":"quantitative","scale":{"domain":[0,220],"nice":false,"zero":false},"axis":{"orient":"top","values":[0,9.9,19.6,29.4,39.1,48.3,58.2,68.5,79.4,92.5,102.7,114.3,123.9,132.1,140.5,148.2,159.1,168.8,178.2,189.9,198.8,209.5,216.5],"labelExpr":"datum.value===0?'0':datum.value===48.3?'50':datum.value===102.7?'100':datum.value===148.2?'150':datum.value===198.8?'200':''","labelOverlap":false,"tickSize":5,"tickWidth":2.2,"labelPadding":3,"grid":false,"title":"AICC2012 age (kyr BP)","titleFontSize":22,"titlePadding":14}},
     "y":{"field":"diff","type":"quantitative","scale":{"domain":[-5,8],"nice":false,"zero":false},"axis":{"orient":"left","values":[-4,-2,0,2,4,6,8],"format":"d","labelOverlap":false,"tickSize":7,"grid":false,"labelPadding":3,"title":["Difference","in age (kyr)"],"titlePadding":12}},
     "text":{"field":"F"}}}
  ],
  "resolve":{"scale":{"y":"independent"},"axis":{"x":"independent","y":"independent"}}
 },
 {
  "width":739,"height":304,
  "layer":[
   {"layer":[
    {"data":{"name":"b_points"},"mark":{"type":"square","size":12,"color":"#f7b06c","opacity":0.9},
     "encoding":{
      "x":{"field":"age","type":"quantitative","scale":{"domain":[0,220],"nice":false,"zero":false},"axis":{"orient":"bottom","values":[0,10,20,30,40,50,60,70,80,90,100,110,120,130,140,150,160,170,180,190,200,210,220],"labels":false,"tickSize":5,"grid":true,"title":null}},
      "y":{"field":"ratio","type":"quantitative","scale":{"domain":[-0.196,1.704],"nice":false,"zero":false},"axis":{"values":[0.4,0.5,0.6,0.7,0.8,0.9,1.0,1.1,1.2,1.3,1.4,1.5,1.6,1.7],"labelExpr":"round(datum.value*10)%2===0 && datum.value<1.65 ? format(datum.value,'.1f') : ''","labelOverlap":false,"tickSize":{"condition":{"test":"round(datum.value*10)%2===1","value":4},"value":7},"grid":true,"gridOpacity":{"condition":{"test":"round(datum.value*10)%2===1 || datum.value<0.55 || datum.value>1.65","value":0},"value":1},"labelPadding":3,"title":"Duration ratio","titlePadding":22}}}},
    {"data":{"name":"one"},"mark":{"type":"rule","color":"#4d4d4d","strokeWidth":1.2},"encoding":{"y":{"datum":1.0,"type":"quantitative"}}},
    {"data":{"name":"b_ratio"},"mark":{"type":"line","color":"#e60012","strokeWidth":3},"encoding":{"x":{"field":"age","type":"quantitative"},"y":{"field":"ratio","type":"quantitative"}}},
    {"data":{"name":"fmarks"},"mark":{"type":"rule","color":"#231f20","strokeWidth":1,"strokeDash":[2,2]},"encoding":{"x":{"field":"age","type":"quantitative"},"y":{"field":"bEnd","type":"quantitative"},"y2":{"datum":1.5}}},
    {"data":{"name":"fmarks"},"mark":{"type":"text","fontWeight":"bold","fontSize":14,"align":"center","baseline":"middle"},"encoding":{"x":{"field":"age","type":"quantitative"},"y":{"datum":1.555,"type":"quantitative"},"text":{"field":"F"}}},
    {"data":{"name":"one"},"mark":{"type":"rect","fill":"white","stroke":"#231f20","strokeWidth":1.2},"encoding":{"x":{"datum":0,"type":"quantitative"},"x2":{"datum":76.0},"y":{"datum":1.704,"type":"quantitative"},"y2":{"datum":1.446}}},
    {"data":{"name":"one"},"mark":{"type":"text","text":"Duration ratio between chronologies","align":"left","baseline":"middle","font":"Lato","fontSize":14},"encoding":{"x":{"datum":4.4,"type":"quantitative"},"y":{"datum":1.62,"type":"quantitative"}}},
    {"data":{"name":"one"},"mark":{"type":"rule","color":"#e60012","strokeWidth":3},"encoding":{"x":{"datum":4.1,"type":"quantitative"},"x2":{"datum":8.9},"y":{"datum":1.523,"type":"quantitative"}}},
    {"data":{"name":"one"},"mark":{"type":"text","text":"AICC2012/DFO2006","align":"left","baseline":"middle","font":"Lato","fontSize":14},"encoding":{"x":{"datum":13.3,"type":"quantitative"},"y":{"datum":1.523,"type":"quantitative"}}},
    {"data":{"name":"one"},"mark":{"type":"text","text":"b","align":"center","baseline":"middle","fontWeight":"bold","fontSize":30},"encoding":{"x":{"datum":-14.2,"type":"quantitative"},"y":{"datum":1.69,"type":"quantitative"}}}
   ]},
   {"layer":[
    {"data":{"name":"c_dD"},"mark":{"type":"line","color":"#1c9fd0","strokeWidth":2},
     "encoding":{
      "x":{"field":"age","type":"quantitative","scale":{"domain":[0,220],"nice":false,"zero":false},"axis":{"orient":"top","values":[0,10,20,30,40,50,60,70,80,90,100,110,120,130,140,150,160,170,180,190,200,210,220],"labels":false,"tickSize":5,"grid":false,"title":null}},
      "y":{"field":"dD","type":"quantitative","scale":{"domain":[-480,-290],"nice":false,"zero":false},"axis":{"orient":"right","values":[-480,-460,-440,-420,-400],"labelExpr":"'' + datum.value","labelOverlap":false,"labelColor":"#1c9fd0","labelFontSize":15,"tickColor":"#1c9fd0","tickSize":5,"tickWidth":1.5,"grid":true,"gridOpacity":{"condition":{"test":"datum.value === -480","value":0},"value":1},"labelPadding":2,"title":"δDice(‰, VSMOW)","titleColor":"#1c9fd0","titleFontWeight":"normal","titleFontSize":18,"titlePadding":2,"titleY":240}}}},
    {"data":{"name":"one"},"mark":{"type":"rule","color":"#1c9fd0","strokeWidth":2},"encoding":{"x":{"datum":220,"type":"quantitative"},"y":{"datum":-397,"type":"quantitative"},"y2":{"datum":-480}}},
    {"data":{"name":"c_labels"},"transform":[{"filter":"datum.kind === 'stage'"}],"mark":{"type":"text","fontWeight":"bold","fontSize":16,"align":"center","baseline":"middle"},"encoding":{"x":{"field":"age","type":"quantitative"},"y":{"field":"dD","type":"quantitative"},"text":{"field":"label"}}},
    {"data":{"name":"c_labels"},"transform":[{"filter":"datum.kind === 'is'"}],"mark":{"type":"text","fontWeight":"bold","fontSize":11,"align":"center","baseline":"middle"},"encoding":{"x":{"field":"age","type":"quantitative"},"y":{"field":"dD","type":"quantitative"},"text":{"field":"label"}}},
    {"data":{"name":"one"},"mark":{"type":"text","text":"c","align":"center","baseline":"middle","fontWeight":"bold","fontSize":30},"encoding":{"x":{"datum":-14.2,"type":"quantitative"},"y":{"datum":-431,"type":"quantitative"}}}
   ]}
  ],
  "resolve":{"scale":{"y":"independent"},"axis":{"x":"independent","y":"independent"}}
 },
 {
  "width":739,"height":209,
  "layer":[
   {"layer":[
    {"data":{"name":"d_blue_line"},"mark":{"type":"line","color":"#1a88c9","strokeWidth":1.5,"interpolate":"monotone"},
     "encoding":{
      "x":{"field":"age","type":"quantitative","scale":{"domain":[0,220],"nice":false,"zero":false},"axis":{"orient":"bottom","values":[0,10,20,30,40,50,60,70,80,90,100,110,120,130,140,150,160,170,180,190,200,210,220],"labels":false,"tickSize":5,"grid":true,"title":null}},
      "y":{"field":"diff","type":"quantitative","scale":{"domain":[-5,8],"nice":false,"zero":false},"axis":{"orient":"left","values":[-5,-4,-3,-2,-1,0,1,2,3,4,5,6,7,8],"labels":false,"tickSize":{"condition":{"test":"datum.value % 2 !== 0","value":4},"value":7},"grid":true,"gridOpacity":{"condition":{"test":"datum.value % 2 !== 0 || datum.value === 8","value":0},"value":1},"title":null}}}},
    {"data":{"name":"one"},"mark":{"type":"rule","color":"#4d4d4d","strokeWidth":1.2},"encoding":{"y":{"datum":0,"type":"quantitative"}}},
    {"data":{"name":"d_brown_line"},"mark":{"type":"line","color":"#b08030","strokeWidth":1.5,"interpolate":"monotone"},"encoding":{"x":{"field":"age","type":"quantitative"},"y":{"field":"diff","type":"quantitative"}}},
    {"data":{"name":"d_blue_pts"},"mark":{"type":"rule","color":"#0b7dbf","strokeWidth":1.5,"opacity":0.75,"clip":true},"encoding":{"x":{"field":"age","type":"quantitative"},"y":{"field":"lo","type":"quantitative"},"y2":{"field":"hi"}}},
    {"data":{"name":"d_blue_pts"},"mark":{"type":"point","shape":"stroke","size":64,"filled":false,"stroke":"#0b7dbf","strokeWidth":1.5,"opacity":0.75,"clip":true},"encoding":{"x":{"field":"age","type":"quantitative"},"y":{"field":"lo","type":"quantitative"}}},
    {"data":{"name":"d_blue_pts"},"mark":{"type":"point","shape":"stroke","size":64,"filled":false,"stroke":"#0b7dbf","strokeWidth":1.5,"opacity":0.75,"clip":true},"encoding":{"x":{"field":"age","type":"quantitative"},"y":{"field":"hi","type":"quantitative"}}},
    {"data":{"name":"d_brown_pts"},"mark":{"type":"rule","color":"#b8862f","strokeWidth":1.5,"opacity":0.7,"clip":true},"encoding":{"x":{"field":"age","type":"quantitative"},"y":{"field":"lo","type":"quantitative"},"y2":{"field":"hi"}}},
    {"data":{"name":"d_brown_pts"},"mark":{"type":"point","shape":"stroke","size":64,"filled":false,"stroke":"#b8862f","strokeWidth":1.5,"opacity":0.7,"clip":true},"encoding":{"x":{"field":"age","type":"quantitative"},"y":{"field":"lo","type":"quantitative"}}},
    {"data":{"name":"d_brown_pts"},"mark":{"type":"point","shape":"stroke","size":64,"filled":false,"stroke":"#b8862f","strokeWidth":1.5,"opacity":0.7,"clip":true},"encoding":{"x":{"field":"age","type":"quantitative"},"y":{"field":"hi","type":"quantitative"}}},
    {"data":{"name":"d_brown_pts"},"mark":{"type":"point","shape":"diamond","size":60,"filled":true,"color":"#a97a2c","opacity":1,"clip":true},"encoding":{"x":{"field":"age","type":"quantitative"},"y":{"field":"diff","type":"quantitative"}}},
    {"data":{"name":"one"},"mark":{"type":"rect","fill":"white","stroke":"#231f20","strokeWidth":1.2},"encoding":{"x":{"datum":0,"type":"quantitative"},"x2":{"datum":78.3},"y":{"datum":8,"type":"quantitative"},"y2":{"datum":4.46}}},
    {"data":{"name":"one"},"mark":{"type":"text","text":"Age difference between chronologies","align":"left","baseline":"middle","font":"Lato","fontSize":14},"encoding":{"x":{"datum":4.4,"type":"quantitative"},"y":{"datum":7.27,"type":"quantitative"}}},
    {"data":{"name":"one"},"mark":{"type":"rule","color":"#1a88c9","strokeWidth":1.5},"encoding":{"x":{"datum":3.5,"type":"quantitative"},"x2":{"datum":9.8},"y":{"datum":6.27,"type":"quantitative"}}},
    {"data":{"name":"one"},"mark":{"type":"circle","size":60,"color":"#0b7dbf","opacity":1},"encoding":{"x":{"datum":6.6,"type":"quantitative"},"y":{"datum":6.27,"type":"quantitative"}}},
    {"data":{"name":"one"},"mark":{"type":"text","text":"DFO2006 age - Speleothem age","align":"left","baseline":"middle","font":"Lato","fontSize":14},"encoding":{"x":{"datum":13.3,"type":"quantitative"},"y":{"datum":6.27,"type":"quantitative"}}},
    {"data":{"name":"one"},"mark":{"type":"rule","color":"#b08030","strokeWidth":1.5},"encoding":{"x":{"datum":3.5,"type":"quantitative"},"x2":{"datum":9.8},"y":{"datum":5.25,"type":"quantitative"}}},
    {"data":{"name":"one"},"mark":{"type":"point","shape":"diamond","size":60,"filled":true,"color":"#a97a2c","opacity":1},"encoding":{"x":{"datum":6.6,"type":"quantitative"},"y":{"datum":5.25,"type":"quantitative"}}},
    {"data":{"name":"one"},"mark":{"type":"text","text":"Speleothem age - AICC2012 age","align":"left","baseline":"middle","font":"Lato","fontSize":14},"encoding":{"x":{"datum":13.3,"type":"quantitative"},"y":{"datum":5.25,"type":"quantitative"}}},
    {"data":{"name":"one"},"mark":{"type":"text","text":"d","align":"center","baseline":"middle","fontWeight":"bold","fontSize":30},"encoding":{"x":{"datum":-14.2,"type":"quantitative"},"y":{"datum":7.16,"type":"quantitative"}}}
   ]},
   {"data":{"name":"d_blue_pts"},"mark":{"type":"circle","size":60,"color":"#0b7dbf","opacity":1},
    "encoding":{
     "x":{"field":"age","type":"quantitative","scale":{"domain":[0,220],"nice":false,"zero":false},"axis":{"orient":"top","values":[0,10,20,30,40,50,60,70,80,90,100,110,120,130,140,150,160,170,180,190,200,210,220],"labels":false,"tickSize":5,"grid":false,"title":null}},
     "y":{"field":"diff","type":"quantitative","scale":{"domain":[-5,8],"nice":false,"zero":false},"axis":{"orient":"left","values":[-4,-2,0,2,4,6,8],"format":"d","labelOverlap":false,"tickSize":7,"grid":false,"labelPadding":3,"title":["Difference","in age (kyr)"],"titlePadding":12}}}}
  ],
  "resolve":{"scale":{"y":"independent"},"axis":{"x":"independent","y":"independent"}}
 },
 {
  "width":739,"height":193,
  "layer":[
   {"layer":[
    {"data":{"name":"e_thick"},"mark":{"type":"line","color":"#1f2a8c","strokeWidth":1},
     "encoding":{
      "x":{"field":"age","type":"quantitative","scale":{"domain":[0,220],"nice":false,"zero":false},"axis":{"orient":"bottom","values":[0,10,20,30,40,50,60,70,80,90,100,110,120,130,140,150,160,170,180,190,200,210,220],"labelExpr":"datum.value % 50 === 0 ? '' + datum.value : ''","labelOverlap":false,"tickSize":6,"labelPadding":6,"grid":true,"title":"DFO2006 age (kyr BP)","titleFontSize":22,"titlePadding":8}},
      "y":{"field":"t","type":"quantitative","scale":{"domain":[0,30],"nice":false,"zero":false},"axis":{"values":[0,5,10,15,20,25,30],"labelExpr":"datum.value % 10 === 0 ? '' + datum.value : ''","labelOverlap":false,"tickSize":{"condition":{"test":"datum.value % 10 !== 0","value":4},"value":7},"grid":true,"gridOpacity":{"condition":{"test":"datum.value % 10 !== 0 || datum.value === 0 || datum.value === 30","value":0},"value":1},"labelPadding":3,"title":["Annual layer","thickness (mm)"],"titlePadding":12,"titleLineHeight":24}}}},
    {"data":{"name":"one"},"mark":{"type":"text","text":"e","align":"center","baseline":"middle","fontWeight":"bold","fontSize":30},"encoding":{"x":{"datum":-14.2,"type":"quantitative"},"y":{"datum":29.2,"type":"quantitative"}}},
    {"data":{"name":"fmarks"},"mark":{"type":"text","fontWeight":"bold","fontSize":14,"align":"center","baseline":"middle"},"encoding":{"x":{"field":"age","type":"quantitative"},"y":{"datum":18.7,"type":"quantitative"},"text":{"field":"F"}}}
   ]},
   {"layer":[
    {"data":{"name":"fmarks"},"mark":{"type":"rule","color":"#231f20","strokeWidth":1,"strokeDash":[2,2]},
     "encoding":{
      "x":{"field":"age","type":"quantitative","scale":{"domain":[0,220],"nice":false,"zero":false},"axis":{"orient":"top","values":[0,10,20,30,40,50,60,70,80,90,100,110,120,130,140,150,160,170,180,190,200,210,220],"labels":false,"tickSize":5,"grid":false,"title":null}},
      "y":{"field":"eEnd","type":"quantitative","scale":{"domain":[0,30],"nice":false,"zero":false},"axis":{"orient":"right","values":[0,5,10,15,20,25,30],"labels":false,"tickSize":5,"grid":false,"title":null}},
      "y2":{"datum":17.3}}}
   ]}
  ],
  "resolve":{"axis":{"x":"independent","y":"independent"}}
 }
]
}
